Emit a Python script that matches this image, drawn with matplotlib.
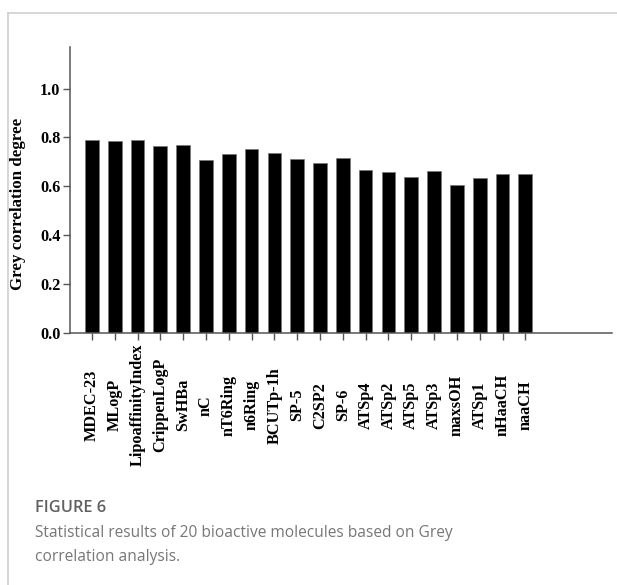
import matplotlib.pyplot as plt
from matplotlib.lines import Line2D

descriptors = [
    "MDEC-23", "MLogP", "LipoaffinityIndex", "CrippenLogP", "SwHBa", "nC",
    "nT6Ring", "n6Ring", "BCUTp-1h", "SP-5", "C2SP2", "SP-6", "ATSp4",
    "ATSp2", "ATSp5", "ATSp3", "maxsOH", "ATSp1", "nHaaCH", "naaCH",
]
grey_degree = [
    0.790, 0.787, 0.790, 0.766, 0.769, 0.707, 0.731, 0.752, 0.736, 0.710,
    0.697, 0.714, 0.668, 0.658, 0.640, 0.662, 0.607, 0.636, 0.650, 0.650,
]
y_ticks = [0.0, 0.2, 0.4, 0.6, 0.8, 1.0]

W, H = 617, 585
fig = plt.figure(figsize=(W / 100, H / 100), dpi=100, facecolor="white")

# panel frame lines (top and left)
fig.add_artist(Line2D([8 / W, 1], [1 - 13 / H, 1 - 13 / H], color="#cfcfcf", lw=1.2))
fig.add_artist(Line2D([8 / W, 8 / W], [0, 1 - 13 / H], color="#cfcfcf", lw=1.2))

left, right, top, bottom = 70, 612, 47, 333
ax = fig.add_axes([left / W, 1 - bottom / H, (right - left) / W, (bottom - top) / H])

x = range(len(descriptors))
ax.bar(x, grey_degree, width=0.6, color="black", edgecolor="#777777", linewidth=0.5)

ax.set_xlim(-0.96, 22.8)
ax.set_ylim(0, 1.17)
ax.set_yticks(y_ticks)
ax.set_yticklabels([f"{v:.1f}" for v in y_ticks])
ax.set_xticks(list(x))
ax.set_xticklabels(descriptors, rotation=90, va="center", ha="center")

serif_bold = {"family": "Liberation Serif", "weight": "bold", "size": 11.7}
for lab in ax.get_xticklabels() + ax.get_yticklabels():
    lab.set_fontproperties(serif_bold)
    lab.set_color("black")

ax.tick_params(axis="x", length=5, width=1, color="#555555", pad=47)
ax.tick_params(axis="y", length=5, width=1, color="#555555", pad=2)

for side in ("top", "right"):
    ax.spines[side].set_visible(False)
for side in ("left", "bottom"):
    ax.spines[side].set_color("#555555")
    ax.spines[side].set_linewidth(1.1)

ax.set_ylabel("Grey correlation degree", fontfamily="Liberation Serif",
              fontweight="bold", fontsize=12.2)
ax.yaxis.set_label_coords(-(left - 26) / (right - left), (bottom - 204) / (bottom - top))

# caption
fig.text(35 / W, 1 - 508 / H, "FIGURE 6", fontfamily="Open Sans", fontweight="semibold",
         fontsize=11.8, color="#606060", va="center")
fig.text(35 / W, 1 - 533 / H, "Statistical results of 20 bioactive molecules based on Grey",
         fontfamily="Open Sans", fontsize=11.2, color="#777777", va="center")
fig.text(35 / W, 1 - 557 / H, "correlation analysis.",
         fontfamily="Open Sans", fontsize=11.2, color="#777777", va="center")

fig.savefig("out.png", dpi=100)
